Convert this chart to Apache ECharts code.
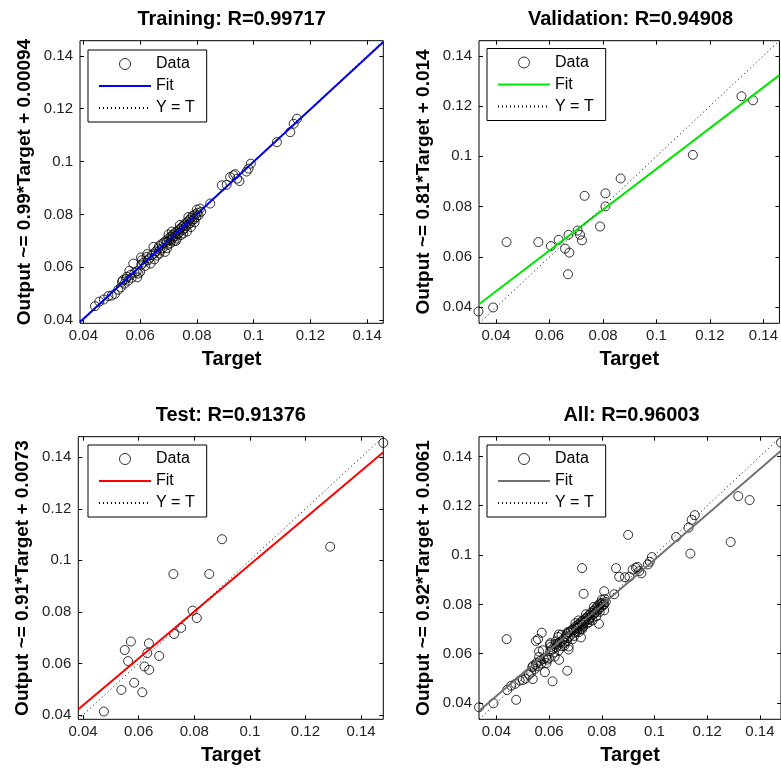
<!DOCTYPE html>
<html><head><meta charset="utf-8">
<script src="https://cdn.jsdelivr.net/npm/echarts@6/dist/echarts.min.js"></script>
<style>html,body{margin:0;padding:0;background:#fff;overflow:hidden}#chart{width:781px;height:769px}</style>
</head><body><div id="chart"></div>
<script>
// ---------- data ----------
const panelTitles = ['Training: R=0.99717', 'Validation: R=0.94908', 'Test: R=0.91376', 'All: R=0.96003'];
const yAxisLabels = ['Output ~= 0.99*Target + 0.00094', 'Output ~= 0.81*Target + 0.014', 'Output ~= 0.91*Target + 0.0073', 'Output ~= 0.92*Target + 0.0061'];
const xAxisLabel = 'Target';
const legendLabels = ['Data', 'Fit', 'Y = T'];
const tickValues = [0.04, 0.06, 0.08, 0.1, 0.12, 0.14];

// [target, output]
const trainingData = [
  [0.0441,0.0453],[0.0456,0.0470],[0.0472,0.0478],[0.0488,0.0491],[0.0500,0.0493],[0.0511,0.0499],
  [0.0523,0.0515],[0.0532,0.0524],[0.0536,0.0545],[0.0539,0.0551],[0.0545,0.0538],[0.0550,0.0556],
  [0.0553,0.0564],[0.0558,0.0549],[0.0562,0.0587],[0.0566,0.0571],[0.0570,0.0560],[0.0576,0.0614],
  [0.0580,0.0579],[0.0588,0.0585],[0.0594,0.0576],[0.0600,0.0583],[0.0604,0.0610],[0.0606,0.0627],
  [0.0612,0.0618],[0.0618,0.0605],[0.0623,0.0639],[0.0627,0.0626],[0.0632,0.0633],[0.0637,0.0614],
  [0.0641,0.0646],[0.0647,0.0677],[0.0650,0.0652],[0.0655,0.0660],[0.0659,0.0644],[0.0664,0.0671],
  [0.0667,0.0680],[0.0671,0.0664],[0.0675,0.0687],[0.0679,0.0672],[0.0683,0.0693],[0.0688,0.0658],
  [0.0690,0.0700],[0.0694,0.0696],[0.0697,0.0685],[0.0700,0.0710],[0.0703,0.0702],[0.0706,0.0690],
  [0.0709,0.0716],[0.0711,0.0705],[0.0714,0.0722],[0.0716,0.0712],[0.0719,0.0698],[0.0721,0.0728],
  [0.0724,0.0718],[0.0727,0.0734],[0.0729,0.0709],[0.0732,0.0725],[0.0735,0.0740],[0.0738,0.0731],
  [0.0741,0.0746],[0.0744,0.0722],[0.0747,0.0752],[0.0750,0.0741],[0.0753,0.0758],[0.0756,0.0747],
  [0.0759,0.0766],[0.0762,0.0755],[0.0765,0.0735],[0.0768,0.0773],[0.0771,0.0762],[0.0774,0.0780],
  [0.0777,0.0768],[0.0780,0.0788],[0.0783,0.0776],[0.0786,0.0795],[0.0790,0.0782],[0.0794,0.0800],
  [0.0798,0.0790],[0.0802,0.0806],[0.0806,0.0797],[0.0811,0.0822],[0.0815,0.0810],[0.0847,0.0841],
  [0.0888,0.0910],[0.0905,0.0912],[0.0917,0.0941],[0.0929,0.0948],[0.0935,0.0952],[0.0942,0.0935],
  [0.0950,0.0926],[0.0975,0.0962],[0.0982,0.0973],[0.0990,0.0992],[0.1082,0.1073],[0.1129,0.1111],
  [0.1141,0.1143],[0.1153,0.1162],
  [0.0590,0.0562],[0.0603,0.0637],[0.0625,0.0650],[0.0650,0.0630],[0.0668,0.0652],[0.0695,0.0672],
  [0.0700,0.0724],[0.0712,0.0735],[0.0726,0.0700],[0.0740,0.0760],[0.0752,0.0728],[0.0770,0.0790],
  [0.0779,0.0752],[0.0792,0.0770],[0.0800,0.0818]
];
const validationData = [
  [0.0334,0.0383],[0.0389,0.0399],[0.0439,0.0659],[0.0558,0.0659],[0.0605,0.0643],[0.0634,0.0668],
  [0.0658,0.0633],[0.0674,0.0617],[0.0671,0.0688],[0.0669,0.0531],[0.0705,0.0705],[0.0714,0.0688],
  [0.0721,0.0666],[0.0731,0.0843],[0.0789,0.0721],[0.0809,0.0853],[0.0809,0.0801],[0.0866,0.0912],
  [0.1136,0.1006],[0.1318,0.1239],[0.1361,0.1223]
];
const testData = [
  [0.0475,0.0413],[0.0538,0.0497],[0.0550,0.0652],[0.0572,0.0685],[0.0562,0.0609],[0.0584,0.0525],
  [0.0613,0.0488],[0.0621,0.0588],[0.0638,0.0575],[0.0631,0.0640],[0.0637,0.0678],[0.0674,0.0629],
  [0.0725,0.0947],[0.0728,0.0714],[0.0753,0.0738],[0.0794,0.0805],[0.0809,0.0776],[0.0854,0.0947],
  [0.0900,0.1082],[0.1289,0.1053],[0.1480,0.1456]
];
const allData = trainingData.concat(validationData, testData);

// axis limits [min, max] (same for Target and Output)
const axisLimits = [[0.0388, 0.1457], [0.0336, 0.1460], [0.0383, 0.1480], [0.0334, 0.1480]];
// fit line end points [target, output]
const fitLines = [
  [[0.0388, 0.0393], [0.1457, 0.1452]],
  [[0.0336, 0.0412], [0.1460, 0.1323]],
  [[0.0383, 0.0422], [0.1480, 0.1420]],
  [[0.0334, 0.0368], [0.1480, 0.1423]]
];
// Y = T line end points
const identityLines = [
  [[0.0388, 0.0388], [0.1457, 0.1457]],
  [[0.0336, 0.0336], [0.1460, 0.1460]],
  [[0.0383, 0.0383], [0.1480, 0.1480]],
  [[0.0334, 0.0334], [0.1480, 0.1480]]
];

// ---------- layout & style ----------
const FONT = '"Liberation Sans", Arial, Helvetica, sans-serif';
const fitColors = ['#0000ff', '#00e600', '#ff0000', '#707070'];
const gridBoxes = [
  {left: 80, top: 40.7, width: 303.3, height: 282.6},
  {left: 479, top: 40.7, width: 303, height: 282.6},
  {left: 78.3, top: 436.7, width: 305, height: 282.6},
  {left: 479, top: 436.7, width: 305, height: 282.6}
];
const legendPos = [
  {left: 88, top: 50}, {left: 487, top: 48.5}, {left: 88, top: 445}, {left: 487, top: 445}
];
const panelData = [trainingData, validationData, testData, allData];
const keys = ['train', 'val', 'test', 'all'];

const option = {
  animation: false,
  backgroundColor: '#fff',
  title: [], grid: [], xAxis: [], yAxis: [], legend: [], series: []
};

const tickCommon = {show: true, inside: true, length: 4, lineStyle: {color: '#000', width: 1}, customValues: tickValues};
const hiddenSymbol = {color: 'rgba(0,0,0,0)', borderWidth: 0, opacity: 0};

for (let i = 0; i < 4; i++) {
  const g = gridBoxes[i];
  const lim = axisLimits[i];
  const k = keys[i];
  option.grid.push(Object.assign({show: true, borderColor: '#000', borderWidth: 1, backgroundColor: '#fff'}, g));
  option.title.push({
    text: panelTitles[i], left: g.left + g.width / 2, top: g.top - 31, textAlign: 'center', padding: 0,
    textStyle: {fontFamily: FONT, fontSize: 20, fontWeight: 'bold', color: '#000'}
  });
  option.xAxis.push({
    gridIndex: i, type: 'value', min: lim[0], max: lim[1], position: 'bottom',
    axisLine: {show: false}, splitLine: {show: false}, axisTick: tickCommon,
    axisLabel: {customValues: tickValues, fontFamily: FONT, fontSize: 15, color: '#222', margin: 5},
    name: xAxisLabel, nameLocation: 'middle', nameGap: 26,
    nameTextStyle: {fontFamily: FONT, fontSize: 20, fontWeight: 'bold', color: '#000'}
  });
  option.xAxis.push({
    gridIndex: i, type: 'value', min: lim[0], max: lim[1], position: 'top',
    axisLine: {show: false}, splitLine: {show: false}, axisTick: tickCommon,
    axisLabel: {show: false, customValues: tickValues}
  });
  option.yAxis.push({
    gridIndex: i, type: 'value', min: lim[0], max: lim[1], position: 'left',
    axisLine: {show: false}, splitLine: {show: false}, axisTick: tickCommon,
    axisLabel: {customValues: tickValues, fontFamily: FONT, fontSize: 15, color: '#222', margin: 7},
    name: yAxisLabels[i], nameLocation: 'middle', nameGap: 46,
    nameTextStyle: {fontFamily: FONT, fontSize: 19, fontWeight: 'bold', color: '#000'}
  });
  option.yAxis.push({
    gridIndex: i, type: 'value', min: lim[0], max: lim[1], position: 'right',
    axisLine: {show: false}, splitLine: {show: false}, axisTick: tickCommon,
    axisLabel: {show: false, customValues: tickValues}
  });
  const names = legendLabels.map(n => n + '|' + k);
  option.series.push({
    name: names[0], type: 'scatter', xAxisIndex: 2 * i, yAxisIndex: 2 * i,
    data: panelData[i], symbol: 'circle', symbolSize: 9, clip: false, silent: true, z: 2,
    itemStyle: {color: 'rgba(0,0,0,0)', borderColor: '#000', borderWidth: 1}
  });
  option.series.push({
    name: names[1], type: 'line', xAxisIndex: 2 * i, yAxisIndex: 2 * i,
    data: fitLines[i], symbol: 'none', silent: true, z: 3,
    lineStyle: {color: fitColors[i], width: 2}, itemStyle: {color: fitColors[i]}
  });
  option.series.push({
    name: names[2], type: 'line', xAxisIndex: 2 * i, yAxisIndex: 2 * i,
    data: identityLines[i], symbol: 'none', silent: true, z: 3,
    lineStyle: {color: '#000', width: 1, type: [1, 3]}, itemStyle: {color: '#000'}
  });
  option.legend.push({
    data: [
      {name: names[0], itemStyle: {color: 'rgba(0,0,0,0)', borderColor: '#000', borderWidth: 1}},
      {name: names[1], itemStyle: hiddenSymbol},
      {name: names[2], itemStyle: hiddenSymbol}
    ],
    orient: 'vertical', left: legendPos[i].left, top: legendPos[i].top,
    itemWidth: 52, itemHeight: 11, itemGap: 6, padding: [6, 12, 6, 10],
    backgroundColor: '#fff', borderColor: '#000', borderWidth: 1, borderRadius: 0,
    selectedMode: false, z: 10,
    textStyle: {fontFamily: FONT, fontSize: 16, color: '#000'},
    formatter: n => n.split('|')[0]
  });
}

const chart = echarts.init(document.getElementById('chart'));
chart.setOption(option);
</script>
</body></html>
